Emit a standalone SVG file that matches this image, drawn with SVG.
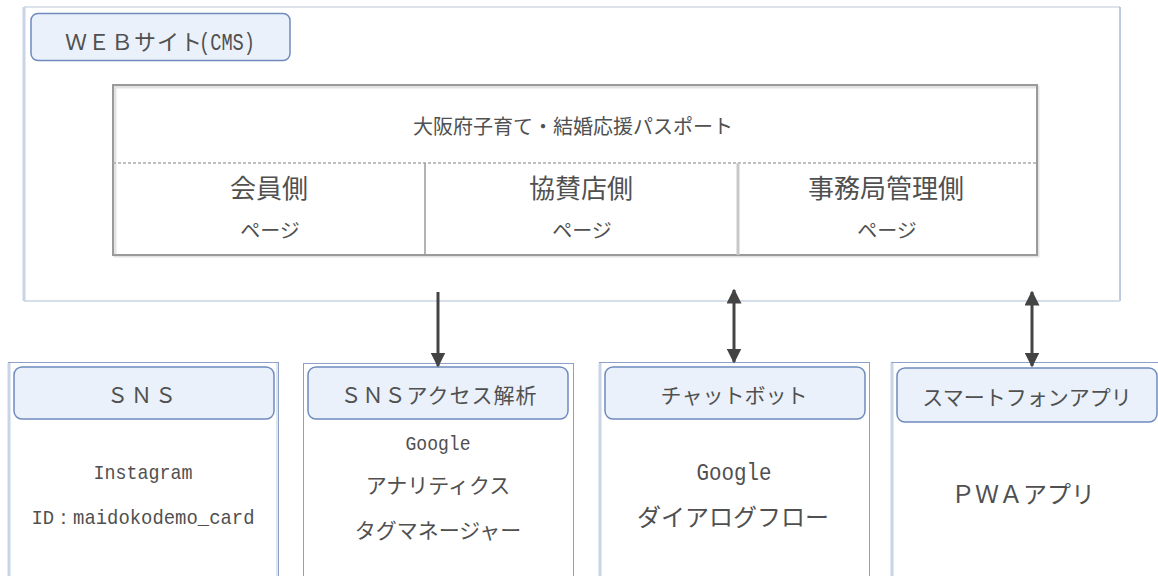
<svg xmlns="http://www.w3.org/2000/svg" width="1158" height="576" viewBox="0 0 1158 576">
<defs>
<style>
.jp{font-family:"Noto Sans CJK JP","Noto Sans",sans-serif;fill:#505050}
.mono{font-family:"Liberation Mono","DejaVu Sans Mono",monospace;fill:#505050}
.pill{fill:#eaf1fa;stroke:#6f8bbd;stroke-width:1.5}
.box{fill:#ffffff;stroke:#8da1c8;stroke-width:1}
.side{stroke:#c9d4e7;stroke-width:3}
.tbl{fill:none;stroke:#9a9a9a;stroke-width:2}
.conn{stroke:#444;stroke-width:3;fill:none}
</style>
<marker id="ah" viewBox="0 0 10 10" refX="9" refY="5" markerWidth="5" markerHeight="5" orient="auto-start-reverse" markerUnits="strokeWidth">
<path d="M0,0 L10,5 L0,10 z" fill="#444"/>
</marker>
</defs>
<rect width="1158" height="576" fill="#ffffff"/>

<g id="web">
<line x1="24" y1="7" x2="1120" y2="7" stroke="#dde3ec" stroke-width="2"/>
<line x1="1120" y1="7" x2="1120" y2="301" stroke="#7f96c2" stroke-width="1"/>
<line x1="24" y1="301" x2="1120" y2="301" stroke="#d6deea" stroke-width="2"/>
<line x1="24" y1="7" x2="24" y2="301" class="side"/>
<rect class="pill" x="31" y="13.5" width="259" height="47" rx="7"/>
<text class="jp" x="65" y="50" font-size="22" letter-spacing="1">ＷＥＢサイト</text>
<text class="mono" x="199" y="50" font-size="23" textLength="56" lengthAdjust="spacingAndGlyphs">(CMS)</text>
</g>

<g id="passport">
<rect x="114" y="86" width="923" height="169" fill="#fff" stroke="#e3e3e3" stroke-width="3" transform="translate(1,1)"/>
<rect class="tbl" x="113" y="85" width="924" height="170"/>
<line x1="113" y1="163" x2="1037" y2="163" stroke="#aaa" stroke-width="1.5" stroke-dasharray="3,2"/>
<line x1="425" y1="163" x2="425" y2="255" stroke="#9a9a9a" stroke-width="1.5"/>
<line x1="738" y1="163" x2="738" y2="255" stroke="#c8c8c8" stroke-width="3"/>
<text class="jp" x="573" y="134" font-size="20" text-anchor="middle">大阪府子育て・結婚応援パスポート</text>
<text class="jp" x="269" y="198" font-size="26" text-anchor="middle">会員側</text>
<text class="jp" x="270" y="238" font-size="20" text-anchor="middle">ページ</text>
<text class="jp" x="581" y="198" font-size="26" text-anchor="middle">協賛店側</text>
<text class="jp" x="582" y="238" font-size="20" text-anchor="middle">ページ</text>
<text class="jp" x="886" y="198" font-size="26" text-anchor="middle">事務局管理側</text>
<text class="jp" x="887" y="238" font-size="20" text-anchor="middle">ページ</text>
</g>

<g id="sns">
<rect class="box" x="8.5" y="362.5" width="270" height="220"/>
<line x1="9" y1="363" x2="9" y2="576" class="side"/>
<line x1="277" y1="363" x2="277" y2="576" stroke="#dfe5ef" stroke-width="2"/>
<rect class="pill" x="14" y="367" width="260" height="52" rx="8"/>
<text class="jp" x="143" y="403" font-size="21" text-anchor="middle" letter-spacing="3">ＳＮＳ</text>
<text class="mono" x="143" y="479" font-size="21" text-anchor="middle" textLength="99" lengthAdjust="spacingAndGlyphs">Instagram</text>
<text class="mono" x="143" y="524" font-size="21" text-anchor="middle" textLength="223" lengthAdjust="spacingAndGlyphs">ID：maidokodemo_card</text>
</g>

<g id="sns-analytics">
<rect class="box" x="303.5" y="363.5" width="270" height="220"/>
<rect class="pill" x="308" y="367" width="260" height="52" rx="8"/>
<text class="jp" x="439" y="403" font-size="21" text-anchor="middle" letter-spacing="1">ＳＮＳアクセス解析</text>
<text class="mono" x="438" y="450" font-size="21" text-anchor="middle" textLength="65" lengthAdjust="spacingAndGlyphs">Google</text>
<text class="jp" x="438" y="493" font-size="21" text-anchor="middle">アナリティクス</text>
<text class="jp" x="438" y="538" font-size="21" text-anchor="middle">タグマネージャー</text>
</g>

<g id="chatbot">
<rect class="box" x="599.5" y="362.5" width="270" height="220"/>
<line x1="600" y1="363" x2="600" y2="576" class="side"/>
<rect class="pill" x="605" y="367" width="260" height="52" rx="8"/>
<text class="jp" x="734" y="403" font-size="21" text-anchor="middle">チャットボット</text>
<text class="mono" x="734" y="480" font-size="24" text-anchor="middle" textLength="75" lengthAdjust="spacingAndGlyphs">Google</text>
<text class="jp" x="733" y="526" font-size="24" text-anchor="middle">ダイアログフロー</text>
</g>

<g id="app">
<rect class="box" x="891.5" y="362.5" width="280" height="220"/>
<line x1="892" y1="363" x2="892" y2="576" class="side"/>
<rect class="pill" x="897" y="368" width="260" height="54" rx="8"/>
<text class="jp" x="1027" y="405" font-size="21" text-anchor="middle">スマートフォンアプリ</text>
<text class="jp" x="1023" y="503" font-size="24" text-anchor="middle">ＰＷＡアプリ</text>
</g>

<g id="connectors">
<line class="conn" x1="438" y1="292" x2="438" y2="366" marker-end="url(#ah)"/>
<line class="conn" x1="734" y1="290" x2="734" y2="362" marker-start="url(#ah)" marker-end="url(#ah)"/>
<line class="conn" x1="1032" y1="292" x2="1032" y2="366" marker-start="url(#ah)" marker-end="url(#ah)"/>
</g>
</svg>
